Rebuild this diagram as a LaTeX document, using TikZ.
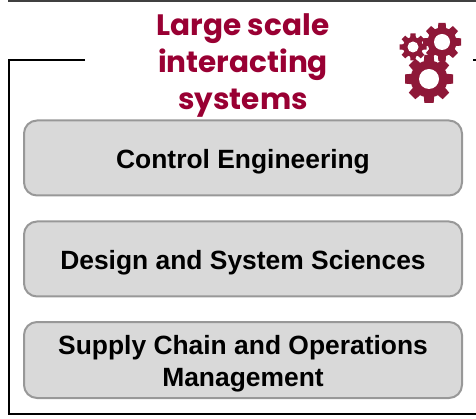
\documentclass[tikz,border=0pt]{standalone}
\usepackage{fontspec}
\setmainfont{Liberation Sans}
\newfontfamily\headfont{Poppins}
\usepackage{xcolor}
\usetikzlibrary{calc}
\definecolor{wine}{HTML}{8E1838}
\definecolor{headwine}{HTML}{990033}
\definecolor{boxfill}{HTML}{D9D9D9}
\definecolor{boxline}{HTML}{989898}
\tikzset{
  frameline/.style={draw=black, line width=2pt},
  topline/.style={draw=black!75, line width=2pt},
  topic/.style={draw=boxline, fill=boxfill, line width=2pt, rounded corners=13pt, minimum width=438pt, align=center, text=black, font=\fontsize{26.4}{32}\selectfont\bfseries},
  headline/.style={text=headwine, align=center, font=\fontsize{29.5}{37}\selectfont\headfont\bfseries},
}
\newcommand{\gear}[5]{% x, y, outer, body, hole
  \fill[wine] (#1,#2) circle (#4);
  \foreach \a in {0,45,...,315}
    \fill[wine, shift={(#1,#2)}, rotate=\a] (0,-#4*0.36) -- (#3,-#4*0.25) -- (#3,#4*0.25) -- (0,#4*0.36) -- cycle;
  \fill[white] (#1,#2) circle (#5);
}
\begin{document}
\begin{tikzpicture}[x=1pt,y=-1pt]
  \useasboundingbox (0,0) rectangle (476,419);
  \coordinate (topL) at (8,1);
  \coordinate (topR) at (476,1);
  \coordinate (frameA) at (85,60);
  \coordinate (frameB) at (9,60);
  \coordinate (frameC) at (9,414);
  \coordinate (frameD) at (476,414);
  \coordinate (tickA) at (473,60);
  \coordinate (tickB) at (476,60);
  \draw[topline] (topL) -- (topR);
  \draw[frameline] (frameA) -- (frameB) -- (frameC) -- (frameD);
  \draw[frameline] (tickA) -- (tickB);
  \node[headline] (title) at (243,65) {Large scale\\interacting\\systems};
  \node[topic, minimum height=75pt] (control) at (243,158) {\rule{0pt}{26pt}Control Engineering};
  \node[topic, minimum height=75pt] (design) at (243,259) {\rule{0pt}{26pt}Design and System Sciences};
  \node[topic, minimum height=76pt] (supply) at (243,360) {\rule{0pt}{27pt}Supply Chain and Operations\\Management};
  \gear{429}{79}{24}{18.5}{10}
  \gear{442}{42}{19}{14.5}{8}
  \gear{413}{47}{13.5}{10}{5.5}
\end{tikzpicture}
\end{document}
